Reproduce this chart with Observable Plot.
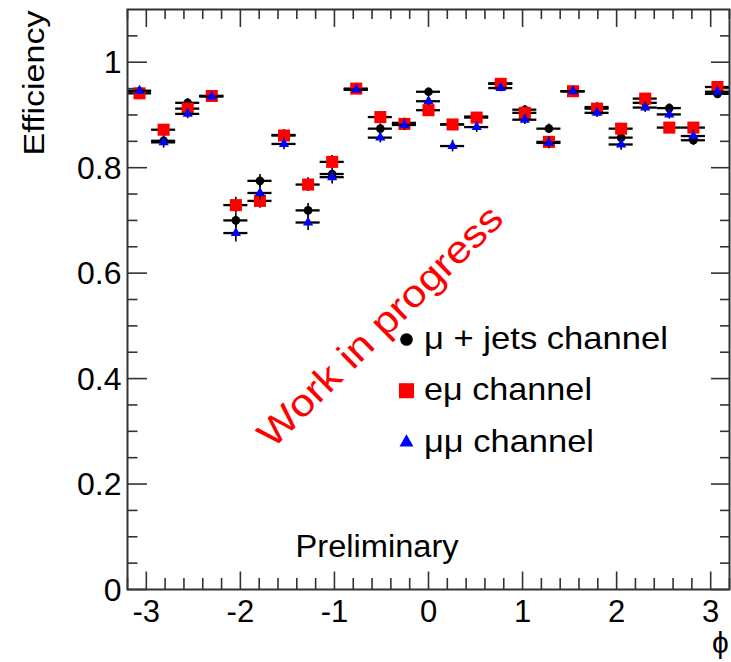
<!DOCTYPE html>
<html>
<head>
<meta charset="utf-8">
<script src="https://cdn.jsdelivr.net/npm/d3@7"></script>
<script src="https://cdn.jsdelivr.net/npm/@observablehq/plot@0.6"></script>
<style>
  html, body { margin: 0; padding: 0; background: #fff; }
  svg { font-family: "Liberation Sans", Arial, Helvetica, sans-serif; }
</style>
</head>
<body>
<div id="chart"></div>
<script>
// ---- data ----
const phiCenters = [-3.072, -2.816, -2.56, -2.304, -2.048, -1.792, -1.536, -1.28, -1.024, -0.768, -0.512, -0.256, 0,
  0.256, 0.512, 0.768, 1.024, 1.28, 1.536, 1.792, 2.048, 2.304, 2.56, 2.816, 3.072];
const binHalfWidth = 0.128;

const effMuJets = [0.945, 0.851, 0.923, 0.936, 0.700, 0.775, 0.862, 0.719, 0.788, 0.948, 0.874, 0.885, 0.944,
  0.882, 0.897, 0.960, 0.910, 0.874, 0.945, 0.915, 0.857, 0.923, 0.913, 0.852, 0.940];
const errMuJets = [0.006, 0.010, 0.008, 0.007, 0.014, 0.012, 0.010, 0.013, 0.011, 0.006, 0.009, 0.009, 0.007,
  0.009, 0.008, 0.006, 0.008, 0.009, 0.006, 0.008, 0.010, 0.008, 0.008, 0.010, 0.007];

const effEMu = [0.941, 0.872, 0.912, 0.936, 0.729, 0.737, 0.861, 0.768, 0.811, 0.950, 0.896, 0.883, 0.909,
  0.882, 0.895, 0.959, 0.904, 0.849, 0.945, 0.912, 0.874, 0.931, 0.876, 0.876, 0.953];
const errEMu = [0.007, 0.010, 0.009, 0.007, 0.015, 0.014, 0.010, 0.013, 0.012, 0.006, 0.009, 0.009, 0.008,
  0.009, 0.009, 0.006, 0.008, 0.010, 0.006, 0.008, 0.010, 0.008, 0.010, 0.010, 0.007];

const effMuMu = [0.946, 0.848, 0.902, 0.935, 0.676, 0.752, 0.845, 0.696, 0.782, 0.948, 0.857, 0.881, 0.926,
  0.841, 0.877, 0.951, 0.891, 0.847, 0.945, 0.904, 0.844, 0.914, 0.901, 0.860, 0.944];
const errMuMu = [0.007, 0.011, 0.009, 0.007, 0.017, 0.014, 0.011, 0.015, 0.013, 0.006, 0.010, 0.010, 0.008,
  0.011, 0.010, 0.007, 0.009, 0.011, 0.007, 0.009, 0.011, 0.009, 0.009, 0.011, 0.008];

const seriesNames = ["\u03bc + jets channel", "e\u03bc channel", "\u03bc\u03bc channel"];
const seriesColors = ["#000000", "#ff0000", "#0000ff"];
const seriesSymbols = ["circle", "square", "triangle"];

const xTickValues = [-3, -2, -1, 0, 1, 2, 3];
const xTickLabels = ["-3", "-2", "-1", "0", "1", "2", "3"];
const yTickValues = [0, 0.2, 0.4, 0.6, 0.8, 1];
const yTickLabels = ["0", "0.2", "0.4", "0.6", "0.8", "1"];

// ---- derived tables ----
const xDomain = [-3.2, 3.2];
const yDomain = [0, 1.1];
const minorX = d3.range(-32, 33, 2).map(v => v / 10).filter(v => Math.abs(v - Math.round(v)) > 1e-6);
const minorY = d3.range(1, 22).map(v => v * 0.05).filter(v => Math.abs(v * 5 - Math.round(v * 5)) > 1e-6);

const effs = [effMuJets, effEMu, effMuMu];
const errs = [errMuJets, errEMu, errMuMu];
const tables = effs.map((arr, s) => arr.map((eff, i) => ({phi: phiCenters[i], eff, err: errs[s][i]})));

// scale helpers (tick lengths in data units)
const pxX = (xDomain[1] - xDomain[0]) / 602;
const pxY = (yDomain[1] - yDomain[0]) / 580;

const marks = [];
// ticks (inward)
marks.push(
  Plot.ruleX(xTickValues, {x: d => d, y1: 0, y2: 17.5 * pxY, stroke: "#333", strokeWidth: 1.6}),
  Plot.ruleX(minorX, {x: d => d, y1: 0, y2: 11 * pxY, stroke: "#333", strokeWidth: 1.6}),
  Plot.ruleX(xTickValues, {x: d => d, y1: yDomain[1], y2: yDomain[1] - 18 * pxY, stroke: "#333", strokeWidth: 1.6}),
  Plot.ruleX(minorX, {x: d => d, y1: yDomain[1], y2: yDomain[1] - 10 * pxY, stroke: "#333", strokeWidth: 1.6}),
  Plot.ruleY(yTickValues, {y: d => d, x1: xDomain[0], x2: xDomain[0] + 20 * pxX, stroke: "#333", strokeWidth: 1.6}),
  Plot.ruleY(minorY, {y: d => d, x1: xDomain[0], x2: xDomain[0] + 10.5 * pxX, stroke: "#333", strokeWidth: 1.6}),
  Plot.ruleY(yTickValues, {y: d => d, x1: xDomain[1], x2: xDomain[1] - 18 * pxX, stroke: "#333", strokeWidth: 1.6}),
  Plot.ruleY(minorY, {y: d => d, x1: xDomain[1], x2: xDomain[1] - 9 * pxX, stroke: "#333", strokeWidth: 1.6})
);

// tick labels
marks.push(
  Plot.text(xTickValues, {x: d => d, y: () => 0, dy: 23, text: (d, i) => xTickLabels[i], fontSize: 31, fill: "black"}),
  Plot.text(yTickValues, {x: () => xDomain[0], y: d => d, dx: -6, dy: 1, text: (d, i) => yTickLabels[i], textAnchor: "end", fontSize: 32, fill: "black"})
);

// series: horizontal bars, vertical error bars, markers
const markerR = [4.3, 6.8, 3.8];
tables.forEach((tab, s) => {
  marks.push(
    Plot.ruleY(tab, {y: "eff", x1: d => d.phi - binHalfWidth, x2: d => d.phi + binHalfWidth, stroke: "black", strokeWidth: 2.3}),
    Plot.ruleX(tab, {x: "phi", y1: d => d.eff - d.err, y2: d => d.eff + d.err, stroke: "black", strokeWidth: 1.6}),
    Plot.dot(tab, {x: "phi", y: "eff", symbol: seriesSymbols[s], r: markerR[s], fill: seriesColors[s], stroke: "none"})
  );
});

// legend
const legendR = [6.3, 8.5, 5.2];
const legendY = [0.474, 0.377, 0.279];
seriesNames.forEach((name, s) => {
  marks.push(
    Plot.dot([name], {x: () => -0.234, y: () => legendY[s], symbol: seriesSymbols[s], r: legendR[s], fill: seriesColors[s], stroke: "none"}),
    Plot.text([name], {x: () => -0.048, y: () => legendY[s] + 0.002, text: d => d, textAnchor: "start", fontSize: 32, fill: "black"})
  );
});

// annotations
marks.push(
  Plot.text(["Preliminary"], {x: () => -0.547, y: () => 0.080, text: d => d, fontSize: 31, fill: "black"}),
  Plot.text(["Work in progress"], {x: () => -0.51, y: () => 0.4988, text: d => d, rotate: -44.5, fontSize: 38, fill: "#ff0000"}),
  Plot.text(["Efficiency"], {x: () => -4.183, y: () => 0.9606, text: d => d, rotate: -90, fontSize: 29, fill: "black"}),
  Plot.text(["\u03d5"], {x: () => 3.1045, y: () => -0.1024, text: d => d, fontSize: 30, fill: "black"}),
  Plot.frame({stroke: "#333", strokeWidth: 2})
);

const chart = Plot.plot({
  width: 731,
  height: 662,
  marginLeft: 127,
  marginRight: 2,
  marginTop: 9,
  marginBottom: 73,
  x: {domain: xDomain, axis: null},
  y: {domain: yDomain, axis: null},
  style: {background: "white", fontFamily: "'Liberation Sans', Arial, sans-serif", overflow: "visible"},
  marks
});

// ROOT renders these labels wider than Arial: stretch to measured lengths
const measuredLengths = {
  "Work in progress": 326,
  "Efficiency": 145,
  "Preliminary": 163,
  "\u03bc + jets channel": 244,
  "e\u03bc channel": 168,
  "\u03bc\u03bc channel": 170
};
d3.select(chart).selectAll("text").each(function() {
  const t = this.textContent;
  if (measuredLengths[t] !== undefined) {
    this.setAttribute("textLength", measuredLengths[t]);
    this.setAttribute("lengthAdjust", "spacingAndGlyphs");
  }
});

document.getElementById("chart").appendChild(chart);
</script>
</body>
</html>
